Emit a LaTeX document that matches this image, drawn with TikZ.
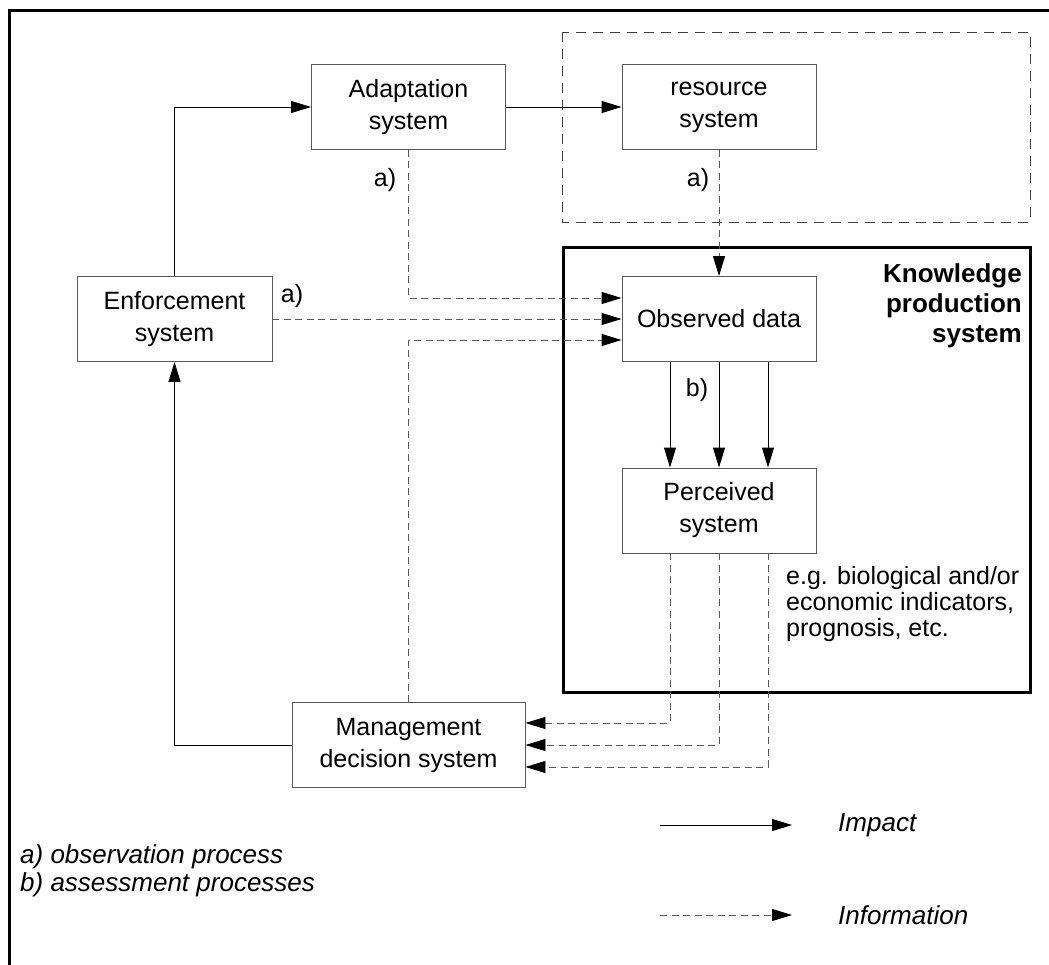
\documentclass[tikz,border=0pt]{standalone}
\usepackage{fontspec}
\setmainfont{Liberation Sans}
\usetikzlibrary{arrows.meta}
\begin{document}
\begin{tikzpicture}[x=1pt,y=-1pt,
  txt/.style={font=\fontsize{25}{32}\selectfont, inner sep=0pt},
  box/.style={txt, draw=black!65, line width=0.9pt, minimum width=194pt, minimum height=85pt, align=center, fill=white},
  legend/.style={txt, font=\fontsize{26}{30}\selectfont\itshape, anchor=west},
  tip/.style={-{Triangle[length=20pt,width=12pt,color=black]}},
  imp/.style={draw=black, line width=0.9pt, tip},
  info/.style={draw=black!65, line width=0.9pt, dash pattern=on 7pt off 4.5pt, tip}
]
\useasboundingbox (0,0) rectangle (1049,964);
% outer frame (only top and left visible)
\draw[line width=3pt] (9,966) -- (9,10) -- (1051,10);
% dashed region around resource system
\draw[black!75, line width=0.9pt, dash pattern=on 10pt off 7pt] (562,32) rectangle (1030,222);
% knowledge production system frame
\draw[line width=3pt] (563,247) rectangle (1030,692);

% boxes
\node[box] (adapt) at (408.5,107) {Adaptation\\system};
\node[box] (res) at (719,107) {resource\\system};
\node[box, minimum width=195pt] (enf) at (174.5,319) {Enforcement\\system};
\node[box] (obs) at (719,319) {Observed data};
\node[box] (perc) at (719,510.5) {Perceived\\system};
\node[box, minimum width=233pt] (mgmt) at (408.5,745) {Management\\decision system};

% impact connectors
\draw[imp] (enf.north) |- (adapt.west);
\draw[imp] (adapt.east) -- (res.west);
\draw[imp] (mgmt.west) -| (enf.south);
\foreach \dx in {-49,0,49}
  \draw[imp] ([xshift=\dx pt]obs.south) -- ([xshift=\dx pt]perc.north);

% information connectors
\draw[info] (adapt.south) |- ([yshift=21pt]obs.west);
\draw[info] (enf.east) -- (obs.west);
\draw[info] (mgmt.north) |- ([yshift=-21pt]obs.west);
\draw[info] (res.south) -- (obs.north);
\draw[info] ([xshift=-49pt]perc.south) |- ([yshift=22pt]mgmt.east);
\draw[info] (perc.south) |- (mgmt.east);
\draw[info] ([xshift=49pt]perc.south) |- ([yshift=-22pt]mgmt.east);

% labels
\node[txt] (la1) at (385,180) {a)};
\node[txt] (la2) at (698,180) {a)};
\node[txt] (la3) at (292,296) {a)};
\node[txt] (lb) at (697,390) {b)};

\node[txt, font=\fontsize{26}{30}\selectfont\bfseries, align=right, anchor=north east] (ktitle) at (1022,263) {Knowledge\\production\hspace*{8pt}\\system};
\node[txt, font=\fontsize{25}{26}\selectfont, align=left, anchor=north west] (eg) at (786,566) {e.g. biological and/or\\economic indicators,\\prognosis, etc.};

% legend
\node[legend] (lga) at (20,857) {a) observation process};
\node[legend] (lgb) at (20,885) {b) assessment processes};
\coordinate (i1) at (660,825);
\coordinate (i2) at (792,825);
\draw[imp] (i1) -- (i2);
\node[legend] (limp) at (838,825) {Impact};
\coordinate (f1) at (660,915);
\coordinate (f2) at (792,915);
\draw[info] (f1) -- (f2);
\node[legend] (linfo) at (838,915) {Information};
\end{tikzpicture}
\end{document}
